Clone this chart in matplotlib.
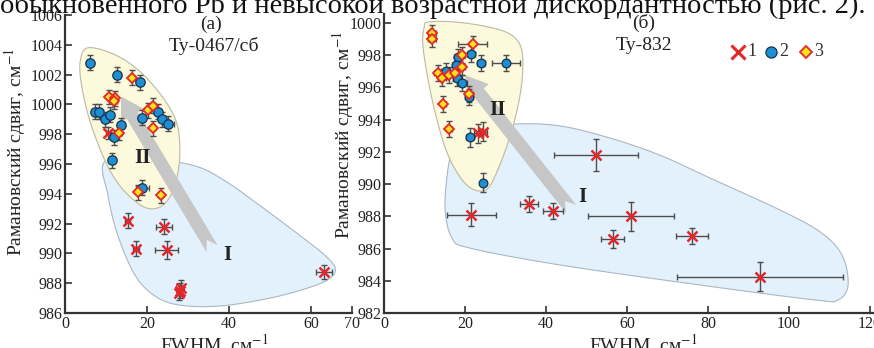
import numpy as np
import matplotlib
matplotlib.use("Agg")
import matplotlib.pyplot as plt
from matplotlib.patches import Polygon

plt.rcParams['font.family'] = ['Liberation Serif', 'DejaVu Serif']
plt.rcParams['mathtext.fontset'] = 'stix'

# ---------------- data: panel (а) Ту-0467/сб ----------------
a_x1 = [10.6, 15.3, 24.2, 17.3, 24.8, 28.3, 28.0, 27.9, 63.2]
a_y1 = [998.1, 992.2, 991.8, 990.3, 990.2, 987.7, 987.5, 987.35, 988.75]
a_xe1 = [0.6, 0.6, 2.0, 0.8, 2.8, 0.6, 0.6, 0.6, 2.0]
a_ye1 = [0.4, 0.5, 0.5, 0.5, 0.6, 0.5, 0.5, 0.5, 0.45]

a_x2 = [6.2, 12.6, 18.3, 7.3, 8.4, 9.8, 11.0, 13.6, 12.0, 11.5, 18.8, 22.6, 23.6, 25.2, 18.9]
a_y2 = [1002.8, 1002.0, 1001.5, 999.5, 999.5, 999.0, 999.3, 998.6, 997.8, 996.25,
        999.1, 999.5, 999.0, 998.7, 994.4]
a_xe2 = [0.6, 0.6, 0.8, 0.8, 0.8, 0.6, 0.6, 0.6, 0.8, 0.5, 0.8, 0.8, 0.8, 1.5, 1.5]
a_ye2 = [0.5, 0.5, 0.5, 0.5, 0.5, 0.5, 0.5, 0.5, 0.5, 0.5, 0.5, 0.5, 0.5, 0.5, 0.5]

a_x3 = [16.4, 10.8, 12.2, 12.0, 20.3, 21.5, 21.5, 13.2, 17.9, 23.3]
a_y3 = [1001.8, 1000.5, 1000.4, 1000.2, 999.6, 999.9, 998.4, 998.1, 994.1, 993.9]
a_xe3 = [0.6, 0.6, 0.6, 0.6, 0.6, 0.6, 0.5, 0.6, 0.6, 0.5]
a_ye3 = [0.5, 0.5, 0.5, 0.5, 0.5, 0.5, 0.5, 0.5, 0.5, 0.5]

# ---------------- data: panel (б) Ту-832 ----------------
b_x1 = [23.3, 24.5, 52.3, 21.6, 35.8, 41.8, 60.9, 56.5, 76.1, 92.8]
b_y1 = [993.15, 993.25, 991.8, 988.1, 988.75, 988.35, 988.0, 986.6, 986.8, 984.25]
b_xe1 = [1.0, 1.0, 10.3, 6.1, 2.2, 2.5, 10.6, 2.8, 4.0, 20.5]
b_ye1 = [0.6, 0.6, 1.0, 0.72, 0.5, 0.5, 0.9, 0.55, 0.5, 0.9]

b_x2 = [21.4, 18.2, 23.9, 30.1, 17.7, 15.2, 18.1, 19.3, 21.1, 21.2, 24.5]
b_y2 = [998.1, 997.9, 997.5, 997.5, 997.4, 997.0, 996.6, 996.3, 995.4, 992.9, 990.1]
b_xe2 = [1.0, 1.0, 1.0, 3.5, 1.0, 1.2, 1.0, 1.2, 1.0, 1.0, 0.5]
b_ye2 = [0.5, 0.5, 0.5, 0.5, 0.5, 0.5, 0.5, 0.5, 0.5, 0.6, 0.6]

b_x3 = [11.8, 11.8, 21.9, 19.2, 19.3, 13.4, 14.4, 16.1, 17.5, 21.1, 14.6, 16.1]
b_y3 = [999.36, 999.0, 998.7, 998.0, 997.3, 996.9, 996.6, 996.8, 996.9, 995.6, 995.0, 993.4]
b_xe3 = [1.0, 1.0, 3.6, 0.8, 0.8, 1.0, 1.0, 1.0, 1.0, 0.8, 0.6, 0.6]
b_ye3 = [0.5, 0.5, 0.5, 0.5, 0.5, 0.5, 0.5, 0.5, 0.5, 0.5, 0.5, 0.5]

a_xticks = [0, 20, 40, 60, 70]
a_yticks = list(range(986, 1007, 2))
b_xticks = list(range(0, 121, 20))
b_yticks = list(range(982, 1001, 2))

top_text = "обыкновенного Pb и невысокой возрастной дискордантностью (рис. 2)."
ylabel = "Рамановский сдвиг, см$^{-1}$"
xlabel = "FWHM, см$^{-1}$"

# ---------------- annotation outlines (data coords) ----------------
a_zone2 = [(5.6, 1003.8), (12.2, 1003.33), (18.3, 1002.2), (23.7, 1000.53), (27.1, 998.87),
           (28.0, 997.2), (27.6, 995.53), (26.1, 994.07), (23.7, 993.2), (20.7, 993.0),
           (17.6, 993.4), (13.4, 994.53), (9.8, 996.2), (6.1, 998.87), (4.1, 1001.2),
           (3.7, 1002.87)]
a_zone1 = [(9.8, 996.2), (20.7, 996.33), (31.7, 995.87), (39.0, 994.87), (47.6, 993.2),
           (57.3, 991.2), (63.4, 989.87), (65.9, 989.0), (64.6, 988.33), (59.8, 987.73),
           (50.0, 987.0), (37.8, 986.47), (28.0, 986.53), (22.0, 987.13), (17.1, 988.53),
           (12.9, 991.2), (10.5, 993.87)]
b_zone2 = [(10.9, 1000.06), (17.5, 1000.06), (24.9, 999.8), (30.6, 999.38), (33.6, 998.64),
           (34.3, 997.39), (33.6, 995.53), (31.6, 993.36), (28.6, 991.19), (25.7, 989.76),
           (22.5, 989.63), (19.3, 990.26), (15.8, 991.81), (13.1, 993.98), (10.9, 996.46),
           (9.6, 998.64), (9.9, 999.69)]
b_zone1 = [(18.8, 993.36), (32.3, 993.73), (43.5, 993.61), (55.8, 992.86), (68.1, 991.8),
           (80.5, 990.38), (97.8, 988.39), (107.7, 987.03), (113.1, 985.6), (114.6, 983.74),
           (112.1, 982.81), (106.4, 982.81), (78.0, 983.74), (43.5, 984.98), (21.2, 986.03),
           (16.8, 986.66), (15.1, 988.39), (15.6, 990.57), (16.8, 992.12)]

W_PX, H_PX = 874, 348
fig = plt.figure(figsize=(W_PX / 100, H_PX / 100), dpi=100)

ax_a = fig.add_axes([65 / W_PX, 1 - 313 / H_PX, 287 / W_PX, 298 / H_PX])
ax_b = fig.add_axes([384 / W_PX, 1 - 313 / H_PX, 490 / W_PX, 299 / H_PX])

RED = '#e5262b'
BLUE = '#1e8fd3'
EDGE_B = '#17324d'
YEL = '#ffe21a'
ERR = '#4d4d4d'


def smooth_closed(pts, n=30):
    P = np.asarray(pts, float)
    N = len(P)
    out = []
    t = np.linspace(0, 1, n, endpoint=False)[:, None]
    for i in range(N):
        p0, p1, p2, p3 = P[i - 1], P[i], P[(i + 1) % N], P[(i + 2) % N]
        out.append(0.5 * ((2 * p1) + (-p0 + p2) * t + (2 * p0 - 5 * p1 + 4 * p2 - p3) * t ** 2
                          + (-p0 + 3 * p1 - 3 * p2 + p3) * t ** 3))
    return np.vstack(out)


def arrow_poly(ax, tail, tip, half_w=6.5, head_hw=13, head_len=22, notch=10):
    bb = ax.get_position()
    x0, x1 = ax.get_xlim()
    y0, y1 = ax.get_ylim()
    sx = bb.width * W_PX / (x1 - x0)
    sy = bb.height * H_PX / (y1 - y0)
    T = np.array([tail[0] * sx, tail[1] * sy])
    P = np.array([tip[0] * sx, tip[1] * sy])
    d = (P - T) / np.linalg.norm(P - T)
    nrm = np.array([-d[1], d[0]])
    base = P - d * head_len
    pts = [T + nrm * half_w, base + nrm * half_w, base + nrm * head_hw, P,
           base - nrm * head_hw, base - nrm * half_w, T - nrm * half_w, T + d * notch]
    pts = np.array(pts)
    pts[:, 0] /= sx
    pts[:, 1] /= sy
    return pts


def style_axes(ax, xlim, ylim, xticks, yticks):
    ax.set_xlim(*xlim)
    ax.set_ylim(*ylim)
    ax.set_xticks(xticks)
    ax.set_yticks(yticks)
    for s in ('top', 'right'):
        ax.spines[s].set_visible(False)
    for s in ('left', 'bottom'):
        ax.spines[s].set_color('#333333')
        ax.spines[s].set_linewidth(1.6)
    ax.tick_params(direction='in', length=5, width=1.2, color='#333333',
                   labelsize=11.5, labelcolor='#222222', pad=2)
    ax.patch.set_alpha(0)


def draw_points(ax, x1, y1, xe1, ye1, x2, y2, xe2, ye2, x3, y3, xe3, ye3, ms=6.5):
    ekw = dict(fmt='none', ecolor=ERR, elinewidth=1.0, capsize=2, capthick=1.0, zorder=5)
    ax.errorbar(x1, y1, xerr=xe1, yerr=ye1, **ekw)
    ax.errorbar(x2, y2, xerr=xe2, yerr=ye2, **ekw)
    ax.errorbar(x3, y3, xerr=xe3, yerr=ye3, **ekw)
    ax.plot(x1, y1, 'x', color=RED, ms=ms + 1, mew=1.8, ls='none', zorder=6)
    ax.plot(x2, y2, 'o', mfc=BLUE, mec=EDGE_B, mew=0.9, ms=ms, ls='none', zorder=7)
    ax.plot(x3, y3, 'D', mfc=YEL, mec=RED, mew=1.3, ms=ms - 1.5, ls='none', zorder=8)


# ---- panel (а)
style_axes(ax_a, (0, 70), (986, 1006), a_xticks, a_yticks)
ax_a.add_patch(Polygon(smooth_closed(a_zone1), closed=True, fc='#e3f1fc', ec='#a9b8c4', lw=0.8, zorder=1))
ax_a.add_patch(Polygon(smooth_closed(a_zone2), closed=True, fc='#fcf9dc', ec='#bcb9a4', lw=0.8, zorder=2))
ax_a.add_patch(Polygon(arrow_poly(ax_a, (35.85, 990.33), (13.66, 1000.53)), closed=True,
                       fc='#c6c6c6', ec='none', zorder=3))
draw_points(ax_a, a_x1, a_y1, a_xe1, a_ye1, a_x2, a_y2, a_xe2, a_ye2, a_x3, a_y3, a_xe3, a_ye3, ms=6.8)
ax_a.text(18.8, 996.4, 'II', fontsize=15, fontweight='bold', color='#222222', ha='center', va='center', zorder=4)
ax_a.text(39.5, 989.87, 'I', fontsize=15, fontweight='bold', color='#222222', ha='center', va='center', zorder=4)
ax_a.text(0.51, 0.97, '(а)', transform=ax_a.transAxes, fontsize=14, ha='center', va='center', color='#222222')
ax_a.text(0.52, 0.895, 'Ту-0467/сб', transform=ax_a.transAxes, fontsize=14, ha='center', va='center', color='#222222')
ax_a.set_xlabel(xlabel, fontsize=14, color='#222222')
ax_a.xaxis.set_label_coords(0.52, -0.065)
ax_a.set_ylabel(ylabel, fontsize=14, color='#222222')
ax_a.yaxis.set_label_coords(-0.129, 0.54)

# ---- panel (б)
style_axes(ax_b, (0, 121), (982, 1000.56), b_xticks, b_yticks)
ax_b.add_patch(Polygon(smooth_closed(b_zone1), closed=True, fc='#e3f1fc', ec='#a9b8c4', lw=0.8, zorder=1))
ax_b.add_patch(Polygon(smooth_closed(b_zone2), closed=True, fc='#fcf9dc', ec='#bcb9a4', lw=0.8, zorder=2))
ax_b.add_patch(Polygon(arrow_poly(ax_b, (46.2, 988.46), (20.0, 996.77)), closed=True,
                       fc='#c6c6c6', ec='none', zorder=3))
draw_points(ax_b, b_x1, b_y1, b_xe1, b_ye1, b_x2, b_y2, b_xe2, b_ye2, b_x3, b_y3, b_xe3, b_ye3, ms=6.3)
ax_b.text(28.1, 994.6, 'II', fontsize=15, fontweight='bold', color='#222222', ha='center', va='center', zorder=4)
ax_b.text(48.9, 989.2, 'I', fontsize=15, fontweight='bold', color='#222222', ha='center', va='center', zorder=4)
ax_b.text(0.53, 0.97, '(б)', transform=ax_b.transAxes, fontsize=14, ha='center', va='center', color='#222222')
ax_b.text(0.53, 0.895, 'Ту-832', transform=ax_b.transAxes, fontsize=14, ha='center', va='center', color='#222222')
ax_b.set_xlabel(xlabel, fontsize=14, color='#222222')
ax_b.xaxis.set_label_coords(0.53, -0.065)
ax_b.set_ylabel(ylabel, fontsize=14, color='#222222')
ax_b.yaxis.set_label_coords(-0.057, 0.595)

# legend (hand-made, as in the original)
ly = 0.873
ax_b.plot([0.722], [ly], 'x', color=RED, ms=10, mew=2.2, transform=ax_b.transAxes, clip_on=False)
ax_b.text(0.751, ly, '1', transform=ax_b.transAxes, fontsize=13, ha='center', va='center', color='#333333')
ax_b.plot([0.790], [ly], 'o', mfc=BLUE, mec=EDGE_B, mew=0.9, ms=8, transform=ax_b.transAxes, clip_on=False)
ax_b.text(0.816, ly, '2', transform=ax_b.transAxes, fontsize=13, ha='center', va='center', color='#333333')
ax_b.plot([0.861], [ly], 'D', mfc=YEL, mec=RED, mew=1.3, ms=6.5, transform=ax_b.transAxes, clip_on=False)
ax_b.text(0.888, ly, '3', transform=ax_b.transAxes, fontsize=13, ha='center', va='center', color='#333333')

# cut-off line of body text at the top of the screenshot
fig.text(0.0, 1 - 13 / H_PX, top_text, fontsize=20.5, ha='left', va='baseline', color='#111111')

fig.savefig('out.png', dpi=100)
